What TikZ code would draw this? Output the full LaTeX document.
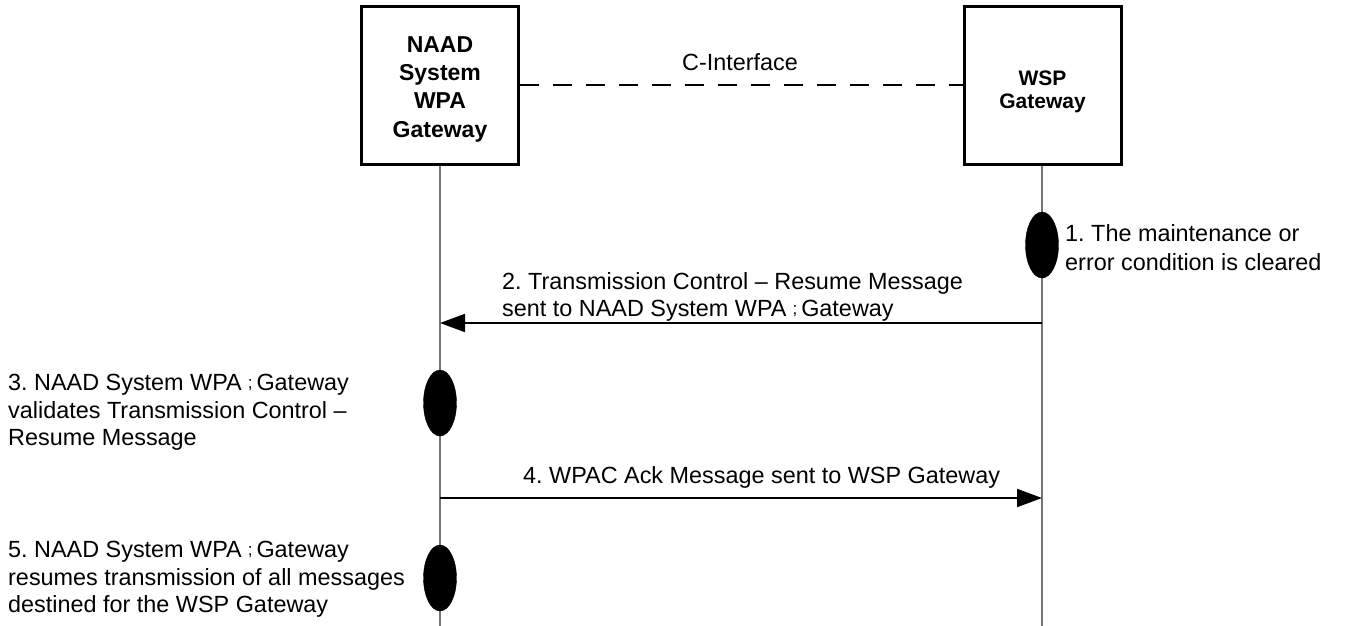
\documentclass[tikz,border=0pt]{standalone}
\usepackage{fontspec}
\setmainfont{Liberation Sans}
\usetikzlibrary{arrows.meta,shapes.geometric}
\tikzset{
  actor/.style={draw, line width=3pt, minimum width=157pt, minimum height=157pt, inner sep=0pt, align=center, font=\bfseries\fontsize{23}{28.3}\selectfont},
  lifeline/.style={draw=black!55, line width=1.2pt},
  actbox/.style={ellipse, fill=black, draw=black, minimum width=33pt, minimum height=66pt, inner sep=0pt},
  msg/.style={line width=2pt, -{Triangle[length=25pt,width=18pt]}},
  lbl/.style={anchor=north west, inner sep=0pt, align=left, font=\fontsize{23.4}{27.5}\selectfont}
}
\newcommand{\gl}{\hspace{6pt}{\fontsize{17}{17}\selectfont\raisebox{2pt}{;}}\hspace{4pt}}
\begin{document}
\frenchspacing
\begin{tikzpicture}[x=1pt,y=-1pt]
\useasboundingbox (0,0) rectangle (1347,626);
% actors
\node[actor] (b1) at (440,85.5) {\rule{0pt}{23pt}NAAD\\System\\WPA\hspace{14pt}\\Gateway};
\node[actor, font=\bfseries\fontsize{21}{23.5}\selectfont] (b2) at (1042.5,85.5) {\rule{0pt}{27pt}WSP\\Gateway};
% interface
\draw[line width=2.5pt, dash pattern=on 19pt off 14pt] (b1.east |- 0,85) -- (b2.west |- 0,85);
\node[font=\fontsize{23.4}{27.5}\selectfont, inner sep=0pt] (ci) at (740,62) {C-Interface};
% lifeline ends
\coordinate (l1) at (440,626);
\coordinate (l2) at (1042,626);
\draw[lifeline] (b1.south) -- (l1);
\draw[lifeline] (b2.south -| l2) -- (l2);
% activations
\node[actbox] (e1) at (1042,245) {};
\node[actbox] (e3) at (440,403) {};
\node[actbox] (e5) at (440,578) {};
% messages
\coordinate (m2s) at (1042,323);
\coordinate (m2e) at (440,323);
\coordinate (m4s) at (440,498);
\coordinate (m4e) at (1042,498);
\draw[msg] (m2s) -- (m2e);
\draw[msg] (m4s) -- (m4e);
% labels
\node[lbl, font=\fontsize{23.4}{29}\selectfont] (t1) at (1065,224) {1. The maintenance or\\error condition is cleared};
\node[lbl] (t2) at (502,272) {2. Transmission Control -- Resume Message\\sent to NAAD System WPA\gl Gateway};
\node[lbl] (t3) at (8,374) {3. NAAD System WPA\gl Gateway\\validates Transmission Control --\\Resume Message};
\node[lbl] (t4) at (523,466) {4. WPAC Ack Message sent to WSP Gateway};
\node[lbl] (t5) at (8,541) {5. NAAD System WPA\gl Gateway\\resumes transmission of all messages\\destined for the WSP Gateway};
\end{tikzpicture}
\end{document}
